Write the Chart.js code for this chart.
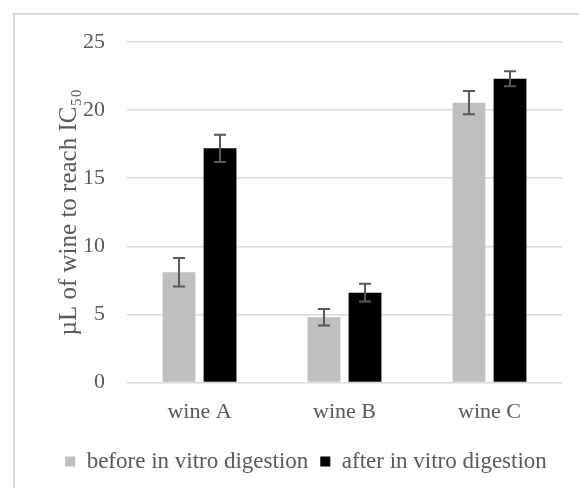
<!DOCTYPE html>
<html>
<head>
<meta charset="utf-8">
<script src="https://cdn.jsdelivr.net/npm/chart.js@4"></script>
<style>
    body { margin: 0; background: #fff; overflow: hidden; }
    #frame {
        position: absolute; left: 13px; top: 13px; width: 620px; height: 520px;
        border: 2px solid #d9d9d9; background: #fff;
    }
    #wrap { position: absolute; left: 0; top: 0; width: 582px; height: 473px; }
</style>
</head>
<body>
<div id="frame"><div id="wrap"><canvas id="ic50Chart"></canvas></div></div>
<script>
const categories = ["wine A", "wine B", "wine C"];
const seriesNames = ["before in vitro digestion", "after in vitro digestion"];
const beforeValues = [8.1, 4.8, 20.55];
const beforeErrors = [1.05, 0.6, 0.85];
const afterValues = [17.2, 6.6, 22.3];
const afterErrors = [1.0, 0.65, 0.55];
const yTicks = [0, 5, 10, 15, 20, 25];

const textColor = "#595959";
const serif = "'Liberation Serif', 'Times New Roman', serif";

// draws the error bars on top of each bar
const errorBars = {
    id: "errorBars",
    afterLayout(chart) {
        // the legend sits centred on the whole frame, not the plot
        chart.legend.left += 17.5;
        chart.legend.right += 17.5;
        chart.legend.top -= 3;
        chart.legend.bottom -= 3;
    },
    afterDatasetsDraw(chart) {
        const ctx = chart.ctx;
        const yScale = chart.scales.y;
        chart.data.datasets.forEach((ds, i) => {
            const meta = chart.getDatasetMeta(i);
            meta.data.forEach((bar, j) => {
                const v = ds.data[j];
                const e = ds.errors[j];
                const yTop = yScale.getPixelForValue(v + e);
                const yBot = yScale.getPixelForValue(v - e);
                const x = bar.x;
                ctx.save();
                ctx.strokeStyle = "#595959";
                ctx.lineWidth = 2;
                ctx.beginPath();
                ctx.moveTo(x, yTop);
                ctx.lineTo(x, yBot);
                ctx.moveTo(x - 6, yTop);
                ctx.lineTo(x + 6, yTop);
                ctx.moveTo(x - 6, yBot);
                ctx.lineTo(x + 6, yBot);
                ctx.stroke();
                ctx.restore();
            });
        });
    },
};

document.addEventListener("DOMContentLoaded", function () {
    const ctx = document.getElementById("ic50Chart");
    new Chart(ctx, {
        type: "bar",
        data: {
            labels: categories,
            datasets: [
                {
                    label: seriesNames[0],
                    data: beforeValues,
                    errors: beforeErrors,
                    backgroundColor: "#bfbfbf",
                    borderColor: "#bfbfbf",
                    borderWidth: 0,
                    barPercentage: 0.8,
                    categoryPercentage: 0.566,
                },
                {
                    label: seriesNames[1],
                    data: afterValues,
                    errors: afterErrors,
                    backgroundColor: "#000000",
                    borderColor: "#000000",
                    borderWidth: 0,
                    barPercentage: 0.8,
                    categoryPercentage: 0.566,
                },
            ],
        },
        options: {
            responsive: true,
            maintainAspectRatio: false,
            animation: false,
            layout: {
                padding: { left: 0, right: 35, top: 27, bottom: 2 },
            },
            plugins: {
                legend: {
                    position: "bottom",
                    labels: {
                        color: textColor,
                        font: { family: serif, size: 23 },
                        boxWidth: 10,
                        boxHeight: 10,
                        padding: 12,
                    },
                },
                tooltip: { enabled: false },
            },
            scales: {
                x: {
                    grid: { display: false, drawTicks: false },
                    border: { display: false },
                    ticks: {
                        color: textColor,
                        font: { family: serif, size: 22 },
                        padding: 16,
                    },
                },
                y: {
                    min: 0,
                    max: 25,
                    afterBuildTicks: (scale) => {
                        scale.ticks = yTicks.map((v) => ({ value: v }));
                    },
                    afterFit: (scale) => {
                        scale.width = 112;
                        scale.paddingTop = 0;
                        scale.paddingBottom = 0;
                    },
                    grid: { color: "#d9d9d9", lineWidth: 1.5, drawTicks: false },
                    border: { display: false },
                    ticks: {
                        color: textColor,
                        font: { family: serif, size: 22 },
                        padding: 22,
                    },
                    title: {
                        display: true,
                        text: "µL of wine to reach IC₅₀",
                        color: textColor,
                        font: { family: serif, size: 25 },
                        padding: { top: 39, bottom: 0 },
                    },
                },
            },
        },
        plugins: [errorBars],
    });
});
</script>
</body>
</html>
